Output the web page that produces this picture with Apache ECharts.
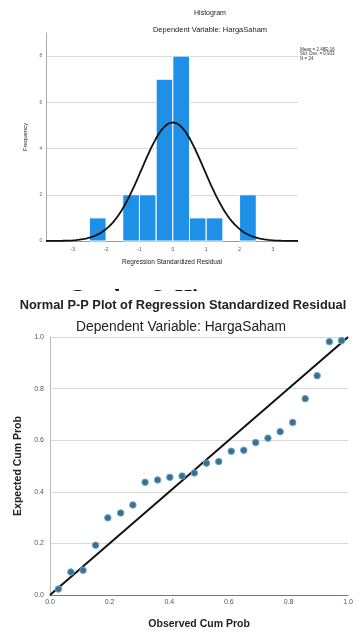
<!DOCTYPE html>
<html>
<head>
<meta charset="utf-8">
<script src="https://cdn.jsdelivr.net/npm/echarts@6/dist/echarts.min.js"></script>
<style>html,body{margin:0;background:#fff}#c{width:356px;height:632px}</style>
</head>
<body>
<div id="c"></div>
<script>
// histogram of the standardized residuals (bin start, count)
const binStart = [-2.5, -1.5, -1.0, -0.5, 0.0, 0.5, 1.0, 2.0];
const binCount = [1, 2, 2, 7, 8, 1, 1, 2];
const binWidth = 0.5;
const histXTicks = [-3, -2, -1, 0, 1, 2, 3];
const resMean = 0;
const resSd = 0.933;
const resN = 24;
const statLines = ['Mean = 2.48E-16', 'Std. Dev. = 0.933', 'N = 24'];

// normal P-P plot points
const obsCum = [0.028, 0.070, 0.111, 0.153, 0.194, 0.237, 0.278, 0.319, 0.361, 0.402, 0.443, 0.484,
                0.525, 0.566, 0.608, 0.650, 0.690, 0.731, 0.772, 0.814, 0.856, 0.896, 0.937, 0.978];
const expCum = [0.023, 0.089, 0.096, 0.193, 0.299, 0.318, 0.349, 0.437, 0.446, 0.456, 0.461, 0.473,
                0.511, 0.517, 0.557, 0.561, 0.591, 0.608, 0.633, 0.669, 0.761, 0.850, 0.982, 0.986];

const chart = echarts.init(document.getElementById('c'), null, { renderer: 'canvas' });

// fitted normal curve drawn from the stats above (as SPSS does)
const curve = [];
for (let x = -3.8; x <= 3.76; x += 0.05) {
  const z = (x - resMean) / resSd;
  curve.push([x, resN * binWidth * Math.exp(-z * z / 2) / (resSd * Math.sqrt(2 * Math.PI))]);
}

const sans = 'Liberation Sans, Arial, sans-serif';
const grey = '#d9d9d9';

chart.setOption({
  animation: false,
  backgroundColor: '#fff',
  textStyle: { fontFamily: sans },
  title: [
    { text: 'Histogram', left: 205, top: 5, textAlign: 'center', z: 30,
      textStyle: { fontSize: 7, fontWeight: 'normal', color: '#222' } },
    { text: 'Dependent Variable: HargaSaham', left: 205, top: 21, textAlign: 'center', z: 30,
      textStyle: { fontSize: 7.5, fontWeight: 'normal', color: '#222' } },
    { text: 'Normal P-P Plot of Regression Standardized Residual', left: 178, top: 294, textAlign: 'center', z: 30,
      textStyle: { fontSize: 12.8, fontWeight: 'bold', color: '#222' } },
    { text: 'Dependent Variable: HargaSaham', left: 176, top: 315, textAlign: 'center', z: 30,
      textStyle: { fontSize: 13.8, fontWeight: 'normal', color: '#222' } }
  ],
  graphic: [
    { type: 'text', left: 300, top: 47, z: 10,
      style: { text: statLines.join('\n'), font: '4.5px ' + sans, fill: '#333', lineHeight: 4.5 } },
    { type: 'text', left: 68, top: 287, z: 10,
      style: { text: 'Gambar 3. Histogram', font: 'bold 22px "Liberation Serif", serif', fill: '#111' } },
    { type: 'rect', left: 0, top: 291, z: 20, shape: { width: 356, height: 22 }, style: { fill: '#fff' } }
  ],
  grid: [
    { left: 46, right: 58, top: 33, bottom: 391 },
    { left: 50, right: 6, top: 337, bottom: 37 }
  ],
  xAxis: [
    { type: 'value', gridIndex: 0, min: -3.8, max: 3.75,
      name: 'Regression Standardized Residual', nameLocation: 'middle', nameGap: 18,
      nameTextStyle: { fontSize: 6.5, color: '#222' },
      axisLine: { onZero: false, lineStyle: { color: '#999' } },
      axisTick: { show: false },
      splitLine: { show: false },
      axisLabel: { customValues: histXTicks, fontSize: 5, color: '#555', margin: 6 } },
    { type: 'value', gridIndex: 1, min: 0, max: 1, interval: 0.2,
      name: 'Observed Cum Prob', nameLocation: 'middle', nameGap: 24,
      nameTextStyle: { fontSize: 10.5, fontWeight: 'bold', color: '#222' },
      axisLine: { onZero: false, lineStyle: { color: '#777' } },
      axisTick: { show: false },
      splitLine: { show: false },
      axisLabel: { fontSize: 7, color: '#555', margin: 4, formatter: v => v.toFixed(1) } }
  ],
  yAxis: [
    { type: 'value', gridIndex: 0, min: 0, max: 9, interval: 2,
      name: 'Frequency', nameLocation: 'middle', nameGap: 12,
      nameTextStyle: { fontSize: 6, color: '#222' },
      axisLine: { show: true, onZero: false, lineStyle: { color: '#aaa' } },
      axisTick: { show: false },
      splitLine: { showMaxLine: false, lineStyle: { color: grey } },
      axisLabel: { fontSize: 4.5, color: '#555', margin: 4, showMaxLabel: false } },
    { type: 'value', gridIndex: 1, min: 0, max: 1, interval: 0.2,
      name: 'Expected Cum Prob', nameLocation: 'middle', nameGap: 26,
      nameTextStyle: { fontSize: 10.5, fontWeight: 'bold', color: '#222' },
      axisLine: { show: true, onZero: false, lineStyle: { color: '#bbb' } },
      axisTick: { show: false },
      splitLine: { lineStyle: { color: grey } },
      axisLabel: { fontSize: 7, color: '#555', margin: 6, formatter: v => v.toFixed(1) } }
  ],
  series: [
    { type: 'custom', xAxisIndex: 0, yAxisIndex: 0,
      data: binStart.map((s, i) => [s, binCount[i]]),
      encode: { x: 0, y: 1 },
      renderItem: (params, api) => {
        const x0 = api.value(0), c = api.value(1);
        const p0 = api.coord([x0, c]);
        const p1 = api.coord([x0 + binWidth, 0]);
        return { type: 'rect',
          shape: { x: p0[0], y: p0[1], width: p1[0] - p0[0], height: p1[1] - p0[1] },
          style: { fill: '#1e90e8', stroke: '#fff', lineWidth: 1 } };
      } },
    { type: 'line', xAxisIndex: 0, yAxisIndex: 0, data: curve, symbol: 'none', smooth: false,
      lineStyle: { color: '#111', width: 1.8 }, z: 5 },
    { type: 'line', xAxisIndex: 1, yAxisIndex: 1, data: [[0, 0], [1, 1]], symbol: 'none',
      lineStyle: { color: '#111', width: 2 }, z: 3 },
    { type: 'scatter', xAxisIndex: 1, yAxisIndex: 1,
      data: obsCum.map((x, i) => [x, expCum[i]]),
      symbolSize: 6.5,
      itemStyle: { color: '#3a6f90', borderColor: '#6aa5c8', borderWidth: 1, opacity: 1 }, z: 4 }
  ]
});
</script>
</body>
</html>
